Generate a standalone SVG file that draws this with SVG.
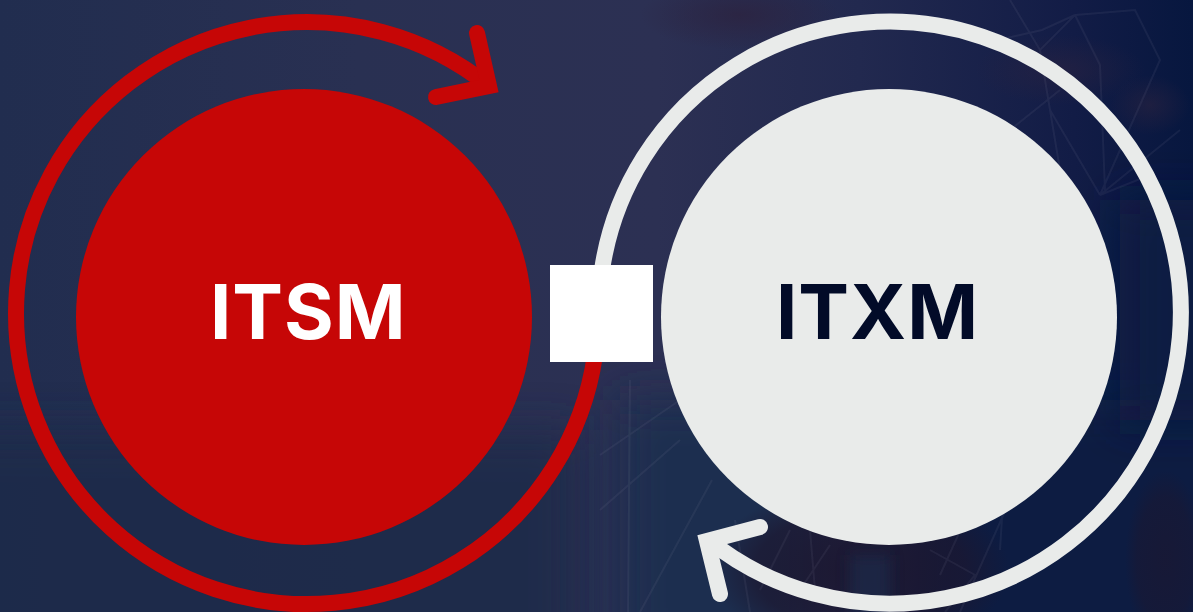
<svg xmlns="http://www.w3.org/2000/svg" width="1193" height="612" viewBox="0 0 1193 612">
<style>
.ring{fill:none;stroke-width:16;stroke-linecap:butt}
.head{fill:none;stroke-width:16;stroke-linecap:round;stroke-linejoin:miter;stroke-miterlimit:10}
.red{stroke:#c60606}
.pale{stroke:#e9ebea}
.lbl{font-family:"Inter","Liberation Sans",sans-serif;font-weight:750;font-size:76px;letter-spacing:1px}
.web{stroke:#9a96ae;stroke-width:2;fill:none;opacity:.09}
</style>
<defs>
<filter id="soft" filterUnits="userSpaceOnUse" x="-200" y="-200" width="1600" height="1000"><feGaussianBlur stdDeviation="22"/></filter>
<filter id="soft3" filterUnits="userSpaceOnUse" x="-200" y="-200" width="1600" height="1000"><feGaussianBlur stdDeviation="7"/></filter>
<filter id="soft2" filterUnits="userSpaceOnUse" x="-200" y="-200" width="1600" height="1000"><feGaussianBlur stdDeviation="0.7"/></filter>
<linearGradient id="bg" x1="0" y1="0" x2="1" y2="0">
<stop offset="0" stop-color="#212d4f"/>
<stop offset=".3" stop-color="#293052"/>
<stop offset=".55" stop-color="#2c3053"/>
<stop offset=".72" stop-color="#22294f"/>
<stop offset=".9" stop-color="#121c46"/>
<stop offset="1" stop-color="#07173f"/>
</linearGradient>
<radialGradient id="dark"><stop offset="0" stop-color="#1c1730" stop-opacity=".95"/><stop offset=".7" stop-color="#1c1730" stop-opacity=".7"/><stop offset="1" stop-color="#1c1730" stop-opacity="0"/></radialGradient>
<radialGradient id="plum"><stop offset="0" stop-color="#2c2340" stop-opacity=".8"/><stop offset="1" stop-color="#2c2340" stop-opacity="0"/></radialGradient>
</defs>
<g id="background">
<rect width="1193" height="612" fill="url(#bg)"/>
<rect x="-60" y="430" width="640" height="240" fill="#1f2b4a" opacity=".8" filter="url(#soft)"/>
<rect x="620" y="400" width="200" height="260" fill="#1a2f50" filter="url(#soft)"/>
<rect x="900" y="400" width="340" height="260" fill="#0a1a42" filter="url(#soft)"/>
<rect x="1120" y="200" width="120" height="220" fill="#0a1a42" filter="url(#soft)"/>
<ellipse cx="860" cy="570" rx="150" ry="85" fill="url(#dark)"/>
<rect x="850" y="555" width="40" height="72" fill="#1a2f50" opacity=".6" filter="url(#soft3)"/>
<ellipse cx="1165" cy="560" rx="40" ry="90" fill="url(#dark)" opacity=".7"/>
<ellipse cx="740" cy="15" rx="100" ry="35" fill="url(#plum)"/>
<ellipse cx="1060" cy="70" rx="85" ry="35" fill="url(#plum)" opacity=".7"/>
<ellipse cx="1150" cy="105" rx="40" ry="30" fill="url(#plum)" opacity=".7"/>
<g filter="url(#soft2)">
<path class="web" d="M1075 15 1040 50 1010 0M1075 15 1042 30 998 40M1075 15 1100 65 1105 190M1075 15 1135 10 1160 60 1100 195M1040 50 1060 170M1050 110 1100 195M1010 130 1060 90M1100 195 1180 130M1100 195 1150 175"/>
<path class="web" d="M600 455 680 400M600 510 680 440M630 380 628 612M640 612 712 480M735 520 750 612M790 530 760 590M810 530 815 590M830 545 800 590M930 550 975 575 945 612M965 520 940 575M1005 470 1000 550M1010 500 960 612"/>
</g>
</g>
<g id="connectors">
<path class="ring red" d="M489 86A291 291 0 1 0 595 355"/>
<path class="head red" d="M477 33 489 86 436 97"/>
<path class="ring pale" d="M602 270A291 291 0 1 1 707 539"/>
<path class="head pale" d="M760 527 707 541 720 594"/>
</g>
<g id="itsm"><circle cx="304" cy="317" r="228" fill="#c60606"/><text class="lbl" x="210" y="339" fill="#fff">ITSM</text></g>
<g id="itxm"><circle cx="889" cy="317" r="228" fill="#e9ebea"/><text class="lbl" x="776" y="339" fill="#020b28">ITXM</text></g>
<g id="square"><rect x="550" y="265" width="103" height="97" fill="#fff"/></g>
</svg>
